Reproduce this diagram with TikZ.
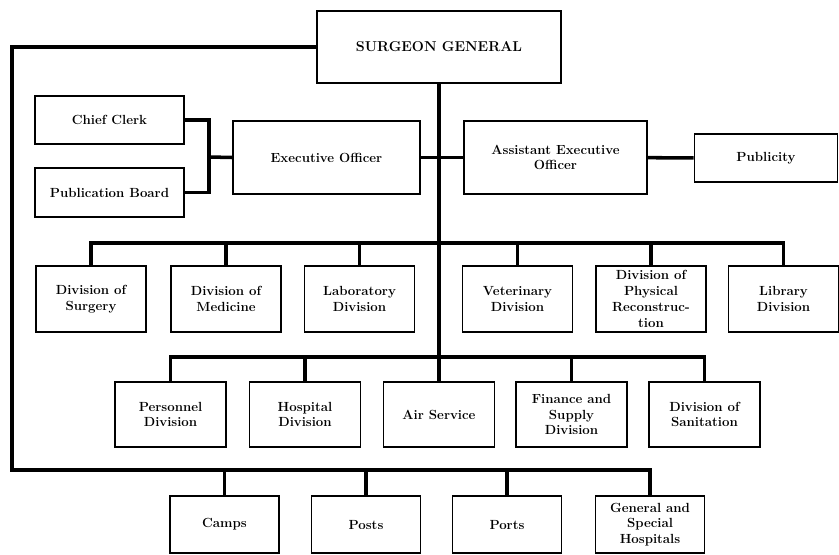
\documentclass[tikz,border=0pt]{standalone}
\usepackage{tikz}

\begin{document}
\begin{tikzpicture}[
    x=0.03cm, y=-0.03cm,
    box/.style={draw, line width=1.4pt, align=center, inner sep=2pt, font=\fontsize{11.3}{13.5}\selectfont\bfseries},
    div/.style={box, minimum width=3.3cm, minimum height=1.98cm},
    sec/.style={box, minimum width=3.33cm, minimum height=1.95cm},
    field/.style={box, minimum width=3.27cm, minimum height=1.71cm},
    link/.style={line width=3pt}
]
\useasboundingbox (0,0) rectangle (839,554);

\node[box, minimum width=7.32cm, minimum height=2.16cm, font=\fontsize{12.2}{14}\selectfont\bfseries] (sg) at (439,47) {SURGEON GENERAL};
\node[box, minimum width=4.47cm, minimum height=1.44cm] (clerk) at (109.5,120) {Chief Clerk};
\node[box, minimum width=4.47cm, minimum height=1.47cm] (board) at (109.5,192.5) {Publication Board};
\node[box, minimum width=5.61cm, minimum height=2.19cm] (exec) at (326.5,157.5) {Executive Officer};
\node[box, minimum width=5.49cm, minimum height=2.19cm] (asst) at (555.5,157.5) {Assistant Executive\\Officer};
\node[box, minimum width=4.29cm, minimum height=1.44cm] (publicity) at (766,158) {Publicity};

\node[div] (surgery) at (91,299) {Division of\\Surgery};
\node[div] (medicine) at (226,299) {Division of\\Medicine};
\node[div] (lab) at (359.5,299) {Laboratory\\Division};
\node[div] (vet) at (517.5,299) {Veterinary\\Division};
\node[div] (physical) at (651,299) {Division of\\Physical\\Reconstruc-\\tion};
\node[div] (library) at (783.5,299) {Library\\Division};

\node[sec] (personnel) at (170.5,414.5) {Personnel\\Division};
\node[sec] (hospital) at (305,414.5) {Hospital\\Division};
\node[sec] (air) at (439,414.5) {Air Service};
\node[sec] (finance) at (571.5,414.5) {Finance and\\Supply\\Division};
\node[sec] (sanitation) at (704.5,414.5) {Division of\\Sanitation};

\node[field] (camps) at (224.5,524.5) {Camps};
\node[field] (posts) at (366,524.5) {Posts};
\node[field] (ports) at (507,524.5) {Ports};
\node[field] (general) at (650,524.5) {General and\\Special\\Hospitals};

\coordinate (fork) at (209,157);
\coordinate (bar2) at (439,243);
\coordinate (bar3) at (439,357);
\coordinate (loop) at (12,470);

\draw[link] (sg) -- (air);
\draw[link] (exec) -- (asst);
\draw[link] (asst) -- (publicity);
\draw[link] (clerk.east) -| (fork) |- (board.east);
\draw[link] (fork) -- (exec.west);

\draw[link] (surgery.north) |- (bar2) -| (library.north);
\draw[link] (medicine.north) -- (medicine.north |- bar2);
\draw[link] (lab.north) -- (lab.north |- bar2);
\draw[link] (vet.north) -- (vet.north |- bar2);
\draw[link] (physical.north) -- (physical.north |- bar2);

\draw[link] (personnel.north) |- (bar3) -| (sanitation.north);
\draw[link] (hospital.north) -- (hospital.north |- bar3);
\draw[link] (finance.north) -- (finance.north |- bar3);

\draw[link] (sg.west) -| (loop) -| (general.north);
\draw[link] (camps.north) -- (camps.north |- loop);
\draw[link] (posts.north) -- (posts.north |- loop);
\draw[link] (ports.north) -- (ports.north |- loop);
\end{tikzpicture}
\end{document}
